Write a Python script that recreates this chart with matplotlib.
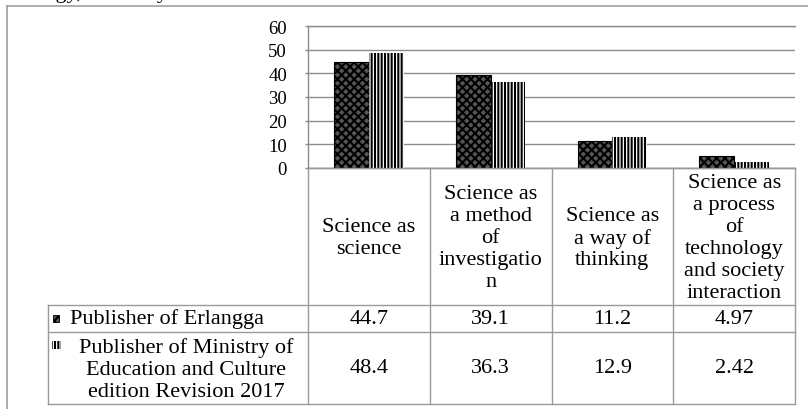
import matplotlib
matplotlib.use('Agg')
import matplotlib.pyplot as plt
from matplotlib.patches import Rectangle
import numpy as np

plt.rcParams['font.family'] = ['Liberation Serif', 'DejaVu Serif']
plt.rcParams['hatch.linewidth'] = 1.5

# data
categories = ['Science as\nscience',
              'Science as\na method\nof\ninvestigatio\nn',
              'Science as\na way of\nthinking',
              'Science as\na process\nof\ntechnology\nand society\ninteraction']
series_names = ['Publisher of Erlangga',
                'Publisher of Ministry of\nEducation and Culture\nedition Revision 2017']
erlangga = [44.7, 39.1, 11.2, 4.97]
ministry = [48.4, 36.3, 12.9, 2.42]
value_labels = [['44.7', '39.1', '11.2', '4.97'],
                ['48.4', '36.3', '12.9', '2.42']]
yticks = [0, 10, 20, 30, 40, 50, 60]

W, H = 808, 410
GRID = '#8c8c8c'
LINE = '#9a9a9a'
DOT_FACE = '#555555'

def fx(px):
    return px / W

def fy(py):
    return 1 - py / H

fig = plt.figure(figsize=(W / 100, H / 100), dpi=100)

# chart area in pixels
x0, x1, ytop, ybot = 308, 795, 27, 169
ax = fig.add_axes([fx(x0), fy(ybot), fx(x1) - fx(x0), fy(ytop) - fy(ybot)])

x = np.arange(len(categories))
w = 0.285
# Erlangga: dark stipple
ax.bar(x - w / 2, erlangga, w, facecolor=DOT_FACE, edgecolor='black',
       hatch='xxxx', linewidth=0.8, zorder=3)
# Ministry: vertical stripes
ax.bar(x + w / 2, ministry, w, facecolor='white', edgecolor='black',
       hatch='|||||', linewidth=0, zorder=3)

ax.set_xlim(-0.5, len(categories) - 0.5)
ax.set_ylim(0, 60)
ax.set_yticks(yticks)
ax.set_xticks([])
ax.yaxis.grid(True, color=GRID, linewidth=1.0)
ax.set_axisbelow(True)
ax.spines['right'].set_visible(False)
for side in ['left', 'top', 'bottom']:
    ax.spines[side].set_color(GRID)
    ax.spines[side].set_linewidth(1.0)
ax.tick_params(axis='y', length=2.2, width=1.0, color=GRID, pad=13,
               labelsize=13.5, labelcolor='black')

# overlay in pixel coords for table and frame
ov = fig.add_axes([0, 0, 1, 1], facecolor='none')
ov.set_xlim(0, W)
ov.set_ylim(H, 0)
ov.axis('off')

# outer frame (clipped at right and bottom)
ov.plot([7, 7], [7, H + 5], color='#a0a0a0', lw=1.2, clip_on=False)
ov.plot([7, W + 5], [7, 7], color='#a0a0a0', lw=1.2, clip_on=False)

# fragment of the text line above the figure
ov.text(168, -2, 'technology, the study', ha='right', va='baseline', fontsize=16)

cols = np.linspace(x0, x1, len(categories) + 1)
lab_x = 48
row_y = [306, 333, 405]
FS = 16

# table lines
ov.plot([x0, x1], [ybot, ybot], color=LINE, lw=1.0)
for c in cols:
    ov.plot([c, c], [ybot, row_y[-1]], color=LINE, lw=1.0)
ov.plot([lab_x, lab_x], [row_y[0], row_y[-1]], color=LINE, lw=1.0)
for r in row_y:
    ov.plot([lab_x, x1], [r, r], color=LINE, lw=1.0)

# category header cells
for i, cat in enumerate(categories):
    ov.text((cols[i] + cols[i + 1]) / 2, (ybot + row_y[0]) / 2 + 1, cat,
            ha='center', va='center', multialignment='center', fontsize=FS,
            linespacing=1.2)

# value cells
row_centers = [(row_y[0] + row_y[1]) / 2, (row_y[1] + row_y[2]) / 2]
for r in range(2):
    for i in range(len(categories)):
        ov.text((cols[i] + cols[i + 1]) / 2, row_centers[r], value_labels[r][i],
                ha='center', va='center', fontsize=FS)

# row labels with legend keys
ov.add_patch(Rectangle((53, 316), 6, 7, facecolor=DOT_FACE, edgecolor='black',
                       hatch='xxxx', linewidth=0.6))
ov.text(70, row_centers[0], series_names[0], ha='left', va='center', fontsize=FS)
ov.add_patch(Rectangle((52, 342), 9, 8, facecolor='white', edgecolor='black',
                       hatch='|||||', linewidth=0))
ov.text(186, row_centers[1] + 1, series_names[1], ha='center', va='center',
        multialignment='center', fontsize=FS, linespacing=1.2)

fig.savefig('out.png', dpi=100)
